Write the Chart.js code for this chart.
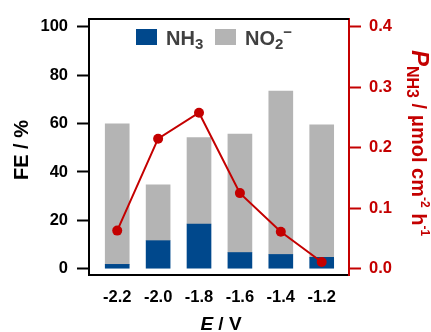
<!DOCTYPE html>
<html><head><meta charset="utf-8">
<script src="https://cdn.jsdelivr.net/npm/chart.js@4"></script>
<style>html,body{margin:0;padding:0;background:#fff}#c{display:block}</style>
</head><body>
<canvas id="c" width="431" height="332"></canvas>
<script>
const potentials = [-2.2, -2.0, -1.8, -1.6, -1.4, -1.2];
const feNH3 = [1.8, 11.6, 18.5, 6.7, 5.9, 4.7];
const feNO2 = [58.1, 23.1, 35.7, 49.0, 67.6, 54.8];
const rateNH3 = [0.063, 0.215, 0.258, 0.125, 0.061, 0.011];
const feTicks = [0, 20, 40, 60, 80, 100];
const rateTicks = [0, 0.1, 0.2, 0.3, 0.4];

const FONT = "'Liberation Sans', Arial, sans-serif";
const BLUE = '#00488c', GRAY = '#b4b4b4', RED = '#c40000', DARK = '#404040';

const decor = {
  id: 'decor',
  afterDraw(chart) {
    const ctx = chart.ctx, a = chart.chartArea;
    ctx.save();
    // top frame line
    ctx.strokeStyle = '#000'; ctx.lineWidth = 2;
    ctx.beginPath(); ctx.moveTo(a.left - 1, a.top); ctx.lineTo(a.right, a.top); ctx.stroke();

    // legend
    ctx.textBaseline = 'alphabetic'; ctx.textAlign = 'left';
    ctx.fillStyle = BLUE; ctx.fillRect(136, 29, 21, 16);
    ctx.fillStyle = DARK;
    ctx.font = 'bold 20px ' + FONT;
    ctx.fillText('NH', 166, 45);
    let w = ctx.measureText('NH').width;
    ctx.font = 'bold 15px ' + FONT;
    ctx.fillText('3', 166 + w, 49);
    ctx.fillStyle = GRAY; ctx.fillRect(215, 29, 21, 16);
    ctx.fillStyle = DARK;
    ctx.font = 'bold 20px ' + FONT;
    ctx.fillText('NO', 245, 45);
    w = ctx.measureText('NO').width;
    ctx.font = 'bold 15px ' + FONT;
    ctx.fillText('2', 245 + w, 49);
    const w2 = ctx.measureText('2').width;
    ctx.fillText('\u2212', 245 + w + w2, 37);

    // left title
    ctx.fillStyle = '#000';
    ctx.save();
    ctx.translate(28, 150); ctx.rotate(-Math.PI / 2);
    ctx.font = 'bold 20px ' + FONT; ctx.textAlign = 'center';
    ctx.fillText('FE / %', 0, 0);
    ctx.restore();

    // bottom title
    ctx.textAlign = 'left';
    ctx.font = 'italic bold 19px ' + FONT;
    const eW = ctx.measureText('E').width;
    ctx.font = 'bold 19px ' + FONT;
    const rW = ctx.measureText(' / V').width;
    let x0 = 221 - (eW + rW) / 2;
    ctx.font = 'italic bold 19px ' + FONT;
    ctx.fillText('E', x0, 330);
    ctx.font = 'bold 19px ' + FONT;
    ctx.fillText(' / V', x0 + eW, 330);

    // right title
    ctx.save();
    ctx.fillStyle = RED;
    ctx.translate(412, 50); ctx.rotate(Math.PI / 2);
    let u = 0;
    const seg = (t, f, v) => { ctx.font = f; ctx.fillText(t, u, v); u += ctx.measureText(t).width; };
    seg('P', 'italic bold 24px ' + FONT, 0);
    seg('NH3', 'bold 16px ' + FONT, 5);
    seg(' / \u03bcmol cm', 'bold 20px ' + FONT, 0);
    seg('-2', 'bold 12px ' + FONT, -9);
    seg(' h', 'bold 20px ' + FONT, 0);
    seg('-1', 'bold 12px ' + FONT, -9);
    ctx.restore();
    ctx.restore();
  }
};

new Chart(document.getElementById('c'), {
  data: {
    datasets: [
      { type: 'line', label: 'P', yAxisID: 'y2', order: 0,
        data: potentials.map((x, i) => ({ x, y: rateNH3[i] })),
        borderColor: RED, backgroundColor: RED, borderWidth: 2,
        pointRadius: 5, pointBackgroundColor: RED, pointBorderWidth: 0 },
      { type: 'bar', label: 'NH3', yAxisID: 'y', stack: 's', order: 1,
        data: potentials.map((x, i) => ({ x, y: feNH3[i] })),
        backgroundColor: BLUE, barThickness: 24 },
      { type: 'bar', label: 'NO2-', yAxisID: 'y', stack: 's', order: 1,
        data: potentials.map((x, i) => ({ x, y: feNO2[i] })),
        backgroundColor: GRAY, barThickness: 24 }
    ]
  },
  options: {
    responsive: false, animation: false, devicePixelRatio: 1,
    layout: { padding: { top: 16, left: 0, right: 0, bottom: 0 } },
    plugins: { legend: { display: false }, tooltip: { enabled: false } },
    scales: {
      x: {
        type: 'linear', min: -2.338, max: -1.0665, stacked: true, offset: false, bounds: 'data',
        afterBuildTicks: s => { s.ticks = potentials.map(v => ({ value: v })); },
        afterFit: s => { s.height = 57; },
        grid: { display: false, offset: false },
        border: { display: true, color: '#000', width: 2 },
        ticks: { color: '#000', font: { family: FONT, size: 16.5, weight: 'bold' }, padding: 5,
          autoSkip: false, maxRotation: 0, callback: v => v.toFixed(1) }
      },
      y: {
        position: 'left', min: -2.6, max: 103.3, stacked: true, beginAtZero: false,
        afterBuildTicks: s => { s.ticks = feTicks.map(v => ({ value: v })); },
        afterFit: s => { s.width = 89; },
        grid: { drawOnChartArea: false, drawTicks: true, tickLength: 12, tickWidth: 2, tickColor: '#000' },
        border: { display: true, color: '#000', width: 2 },
        ticks: { color: '#000', font: { family: FONT, size: 16.5, weight: 'bold' }, padding: 9 }
      },
      y2: {
        position: 'right', min: -0.0104, max: 0.4131, beginAtZero: false,
        afterBuildTicks: s => { s.ticks = rateTicks.map(v => ({ value: v })); },
        afterFit: s => { s.width = 82; },
        grid: { drawOnChartArea: false, drawTicks: true, tickLength: 12, tickWidth: 2, tickColor: RED },
        border: { display: true, color: RED, width: 2 },
        ticks: { color: RED, font: { family: FONT, size: 16.5, weight: 'bold' }, padding: 8,
          callback: v => v.toFixed(1) }
      }
    }
  },
  plugins: [decor]
});
</script>
</body></html>
